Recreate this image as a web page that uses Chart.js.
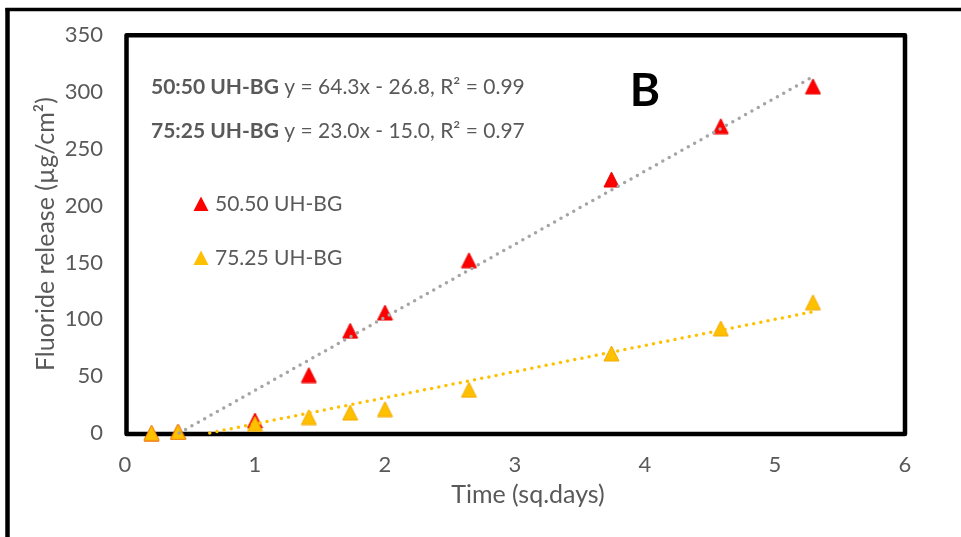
<!DOCTYPE html>
<html><head><meta charset="utf-8">
<script src="https://cdn.jsdelivr.net/npm/chart.js@4.4.1/dist/chart.umd.min.js"></script>
<style>html,body{margin:0;padding:0;background:#fff}</style>
</head><body>
<canvas id="c" width="961" height="537"></canvas>
<script>
// ---- data ----
const timeSqDays   = [0.204, 0.408, 1, 1.414, 1.732, 2, 2.646, 3.742, 4.583, 5.292];
const release5050  = [0, 1, 11, 51, 90, 106, 152, 223, 270, 305];
const release7525  = [0, 1, 8, 14, 18, 21, 38, 70, 92, 115];
const trend5050X   = [0.417, 5.292];
const trend5050Y   = [0, 313.5];
const trend7525X   = [0.652, 5.292];
const trend7525Y   = [0, 106.7];
const seriesNames  = ['50.50 UH-BG', '75.25 UH-BG'];
const eqLabels     = ['50:50 UH-BG', '75:25 UH-BG'];
const eqTexts      = [' y = 64.3x - 26.8, R\u00B2 = 0.99', ' y = 23.0x - 15.0, R\u00B2 = 0.97'];
const panelLetter  = 'B';
const xTitle = 'Time (sq.days)';
const yTitle = 'Fluoride release (\u00B5g/cm\u00B2)';

const RED = '#ff0000', YEL = '#ffc000', GREY = '#a5a5a5', TXT = '#595959';
const FONT = 'Lato, Carlito, Calibri, sans-serif';

const pts = (xs, ys) => xs.map((x, i) => ({x, y: ys[i]}));

// triangle marker centred on its bounding box (as in the reference)
function triMarker(fill, stroke, w, h) {
  const c = document.createElement('canvas');
  c.width = w + 2; c.height = h + 2;
  const g = c.getContext('2d');
  g.fillStyle = fill; g.strokeStyle = stroke; g.lineWidth = 1;
  g.beginPath();
  g.moveTo(c.width / 2, 1); g.lineTo(w + 1, h + 1); g.lineTo(1, h + 1); g.closePath();
  g.fill(); g.stroke();
  return c;
}
const redTri = triMarker(RED, '#e80000', 15, 15);
const yelTri = triMarker(YEL, '#f2a900', 15, 15);

const decor = {
  id: 'decor',
  beforeDraw(chart) {
    const ctx = chart.ctx;
    ctx.save();
    ctx.strokeStyle = '#000';
    ctx.lineWidth = 4.5;
    ctx.beginPath(); ctx.moveTo(7.5, 8); ctx.lineTo(7.5, 540); ctx.stroke();
    ctx.lineWidth = 3.5;
    ctx.beginPath(); ctx.moveTo(5.5, 9.5); ctx.lineTo(965, 9.5); ctx.stroke();
    ctx.restore();
  },
  beforeDatasetsDraw(chart) {
    const {ctx, chartArea: a} = chart;
    ctx.save();
    ctx.strokeStyle = '#000';
    ctx.lineWidth = 4.5;
    ctx.lineJoin = 'round';
    ctx.strokeRect(a.left + 1.5, a.top, a.right - a.left - 1.5, a.bottom - a.top + 1);
    ctx.restore();
  },
  afterDraw(chart) {
    const ctx = chart.ctx;
    ctx.save();
    ctx.textBaseline = 'middle';
    ctx.fillStyle = TXT;
    // x axis title (offset right of centre, as in the reference)
    ctx.font = '25px ' + FONT;
    ctx.textAlign = 'center';
    ctx.fillText(xTitle, 528, 495);
    ctx.textAlign = 'left';
    const ys = [87, 131];
    for (let i = 0; i < 2; i++) {
      ctx.font = 'bold 21px ' + FONT;
      ctx.fillText(eqLabels[i], 151, ys[i]);
      const w = ctx.measureText(eqLabels[i]).width;
      ctx.font = '21px ' + FONT;
      ctx.fillText(eqTexts[i], 151 + w, ys[i]);
    }
    // legend
    const ly = [204, 258], cols = [RED, YEL];
    for (let i = 0; i < 2; i++) {
      const cx = 201, cy = ly[i];
      ctx.fillStyle = cols[i];
      ctx.beginPath();
      ctx.moveTo(cx, cy - 7.5); ctx.lineTo(cx + 7.5, cy + 7); ctx.lineTo(cx - 7.5, cy + 7); ctx.closePath();
      ctx.fill();
      ctx.fillStyle = TXT;
      ctx.font = '21px ' + FONT;
      ctx.fillText(seriesNames[i], 215, cy);
    }
    // panel letter
    ctx.fillStyle = '#000';
    ctx.font = 'bold 46px ' + FONT;
    ctx.textAlign = 'center';
    ctx.fillText(panelLetter, 645, 91);
    ctx.restore();
  }
};

new Chart(document.getElementById('c'), {
  type: 'scatter',
  data: {
    datasets: [
      { label: 'trend5050', type: 'line', data: pts(trend5050X, trend5050Y), borderColor: GREY,
        borderWidth: 3.5, borderDash: [0, 7.3], borderCapStyle: 'round', pointRadius: 0, fill: false, order: 0 },
      { label: 'trend7525', type: 'line', data: pts(trend7525X, trend7525Y), borderColor: YEL,
        borderWidth: 3.5, borderDash: [0, 7.3], borderCapStyle: 'round', pointRadius: 0, fill: false, order: 1 },
      { label: seriesNames[1], data: pts(timeSqDays, release7525), pointStyle: yelTri, pointRadius: 9,
        backgroundColor: YEL, borderColor: '#f2a900', borderWidth: 1, order: 2 },
      { label: seriesNames[0], data: pts(timeSqDays, release5050), pointStyle: redTri, pointRadius: 9,
        backgroundColor: RED, borderColor: '#e00000', borderWidth: 1, order: 3 }
    ]
  },
  options: {
    responsive: false,
    animation: false,
    clip: false,
    layout: { padding: { top: 33, right: 56, bottom: 0, left: 0 } },
    plugins: { legend: { display: false }, tooltip: { enabled: false } },
    scales: {
      x: {
        type: 'linear', min: 0, max: 6,
        ticks: { stepSize: 1, color: TXT, font: { family: FONT, size: 22 }, padding: 19 },
        grid: { display: false, drawTicks: false },
        border: { display: false },
        title: { display: false, text: xTitle },
        afterFit(s) { s.height = 104; }
      },
      y: {
        type: 'linear', min: 0, max: 350,
        ticks: { stepSize: 50, color: TXT, font: { family: FONT, size: 22 }, padding: 22 },
        grid: { display: false, drawTicks: false },
        border: { display: false },
        title: { display: true, text: yTitle, color: TXT, font: { family: FONT, size: 25 }, padding: { top: 31, bottom: 0 } },
        afterFit(s) { s.width = 125; }
      }
    }
  },
  plugins: [decor]
});
</script>
</body></html>
